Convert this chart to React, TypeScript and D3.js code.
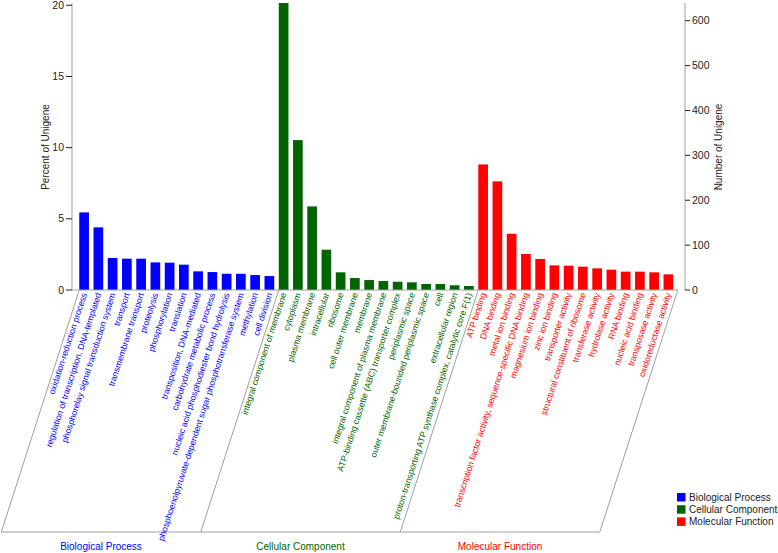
import React from "react";
import * as d3 from "d3";

const groups = ["Biological Process", "Cellular Component", "Molecular Function"];
const groupColors = ["#0000ff", "#006400", "#ff0000"];

const bpTerms = [
  "oxidation-reduction process",
  "regulation of transcription, DNA-templated",
  "phosphorelay signal transduction system",
  "transport",
  "transmembrane transport",
  "proteolysis",
  "phosphorylation",
  "translation",
  "transposition, DNA-mediated",
  "carbohydrate metabolic process",
  "nucleic acid phosphodiester bond hydrolysis",
  "phosphoenolpyruvate-dependent sugar phosphotransferase system",
  "methylation",
  "cell division",
];
const bpPercent = [5.45, 4.4, 2.25, 2.2, 2.2, 1.94, 1.92, 1.78, 1.31, 1.26, 1.14, 1.14, 1.05, 0.98];

const ccTerms = [
  "integral component of membrane",
  "cytoplasm",
  "plasma membrane",
  "intracellular",
  "ribosome",
  "cell outer membrane",
  "membrane",
  "integral component of plasma membrane",
  "ATP-binding cassette (ABC) transporter complex",
  "periplasmic space",
  "outer membrane-bounded periplasmic space",
  "cell",
  "extracellular region",
  "proton-transporting ATP synthase complex, catalytic core F(1)",
];
const ccPercent = [20.16, 10.53, 5.87, 2.83, 1.24, 0.84, 0.7, 0.63, 0.58, 0.54, 0.42, 0.42, 0.33, 0.28];

const mfTerms = [
  "ATP binding",
  "DNA binding",
  "metal ion binding",
  "transcription factor activity, sequence-specific DNA binding",
  "magnesium ion binding",
  "zinc ion binding",
  "transporter activity",
  "structural constituent of ribosome",
  "transferase activity",
  "hydrolase activity",
  "RNA binding",
  "nucleic acid binding",
  "transposase activity",
  "oxidoreductase activity",
];
const mfPercent = [8.82, 7.63, 3.95, 2.53, 2.18, 1.73, 1.71, 1.64, 1.52, 1.43, 1.29, 1.29, 1.24, 1.1];

const totalUnigene = 3172;
const percentTicks = [0, 5, 10, 15, 20];
const countTicks = [0, 100, 200, 300, 400, 500, 600];

type Row = { id: string; term: string; value: number; group: number };

const termLists = [bpTerms, ccTerms, mfTerms];
const valueLists = [bpPercent, ccPercent, mfPercent];
const rows: Row[] = [];
termLists.forEach((terms, g) =>
  terms.forEach((t, i) => rows.push({ id: `${g}-${i}`, term: t, value: valueLists[g][i], group: g }))
);

const W = 778;
const H = 553;
const FONT = "'Liberation Sans', Arial, Helvetica, sans-serif";
const AXIS = "#a0a0a0";
const TXT = "#222";

export default function App() {
  const baseY = 290;
  const topY = 3;
  const bottomY = 532;
  const slantDx = 78;

  const x = d3
    .scaleBand<string>()
    .domain(rows.map((r) => r.id))
    .range([72, 680.5])
    .paddingInner(0.32)
    .paddingOuter(0.51);
  const step = x.step();
  const bw = x.bandwidth();

  const maxPct = d3.max(rows, (r) => r.value) as number;
  const y = d3.scaleLinear().domain([0, maxPct]).range([baseY, topY]);
  const yR = d3
    .scaleLinear()
    .domain([0, (maxPct * totalUnigene) / 100])
    .range([baseY, topY]);

  const leftX = 72;
  const rightX = 685;

  const groupBounds = groups.map((_, g) => {
    const ids = rows.filter((r) => r.group === g).map((r) => r.id);
    const start = x(ids[0]) as number;
    const end = (x(ids[ids.length - 1]) as number) + step;
    return { start, end };
  });
  const firstX = groupBounds[0].start;
  const lastX = groupBounds[groupBounds.length - 1].end;

  return (
    <svg
      width={W}
      height={H}
      style={{ position: "absolute", left: 0, top: 0, background: "#fff" }}
      fontFamily={FONT}
    >
      {/* bars */}
      {rows.map((r) => (
        <rect
          key={r.id}
          x={x(r.id)}
          y={y(r.value)}
          width={bw}
          height={baseY - y(r.value)}
          fill={groupColors[r.group]}
        />
      ))}

      {/* left axis */}
      <line x1={leftX} x2={leftX} y1={topY} y2={baseY} stroke={AXIS} strokeWidth={1} />
      {percentTicks.map((t) => (
        <g key={"l" + t}>
          <line x1={leftX - 6} x2={leftX} y1={y(t)} y2={y(t)} stroke={TXT} strokeWidth={1} />
          <text x={leftX - 8} y={y(t)} dy="0.35em" textAnchor="end" fontSize={10.5} fill={TXT}>
            {t}
          </text>
        </g>
      ))}
      <text
        transform={`translate(48.5,147) rotate(-90)`}
        textAnchor="middle"
        fontSize={10}
        fill={TXT}
      >
        Percent of Unigene
      </text>

      {/* right axis */}
      <line x1={rightX} x2={rightX} y1={topY} y2={baseY} stroke={AXIS} strokeWidth={1} />
      {countTicks.map((t) => (
        <g key={"r" + t}>
          <line x1={rightX} x2={rightX + 5} y1={yR(t)} y2={yR(t)} stroke={TXT} strokeWidth={1} />
          <text x={rightX + 7} y={yR(t)} dy="0.35em" textAnchor="start" fontSize={10.5} fill={TXT}>
            {t}
          </text>
        </g>
      ))}
      <text
        transform={`translate(721.5,147) rotate(-90)`}
        textAnchor="middle"
        fontSize={10}
        fill={TXT}
      >
        Number of Unigene
      </text>

      {/* x baseline */}
      <line x1={leftX} x2={lastX} y1={baseY} y2={baseY} stroke={AXIS} strokeWidth={1} />

      {/* group parallelograms */}
      {groupBounds.map((b, g) => (
        <line
          key={"s" + g}
          x1={b.start}
          y1={baseY}
          x2={b.start - slantDx}
          y2={bottomY}
          stroke={AXIS}
          strokeWidth={1}
        />
      ))}
      <line x1={lastX} y1={baseY} x2={lastX - slantDx} y2={bottomY} stroke={AXIS} strokeWidth={1} />
      <line x1={firstX - slantDx} y1={bottomY} x2={lastX - slantDx} y2={bottomY} stroke={AXIS} strokeWidth={1} />

      {/* term labels */}
      {rows.map((r) => {
        const cx = (x(r.id) as number) + bw / 2;
        return (
          <text
            key={"t" + r.id}
            transform={`translate(${cx + 3},${baseY + 4}) rotate(-72)`}
            textAnchor="end"
            fontSize={8.7}
            fill={groupColors[r.group]}
          >
            {r.term}
          </text>
        );
      })}

      {/* group labels */}
      {groupBounds.map((b, g) => (
        <text
          key={"g" + g}
          x={(b.start + b.end) / 2 - slantDx}
          y={550}
          textAnchor="middle"
          fontSize={10}
          fill={groupColors[g]}
        >
          {groups[g]}
        </text>
      ))}

      {/* legend */}
      {groups.map((gname, g) => (
        <g key={"lg" + g} transform={`translate(677,${493 + g * 12.2})`}>
          <rect x={0} y={0} width={8.5} height={8.5} fill={groupColors[g]} />
          <text x={12} y={4.5} dy="0.35em" fontSize={10} fill={TXT}>
            {gname}
          </text>
        </g>
      ))}
    </svg>
  );
}
